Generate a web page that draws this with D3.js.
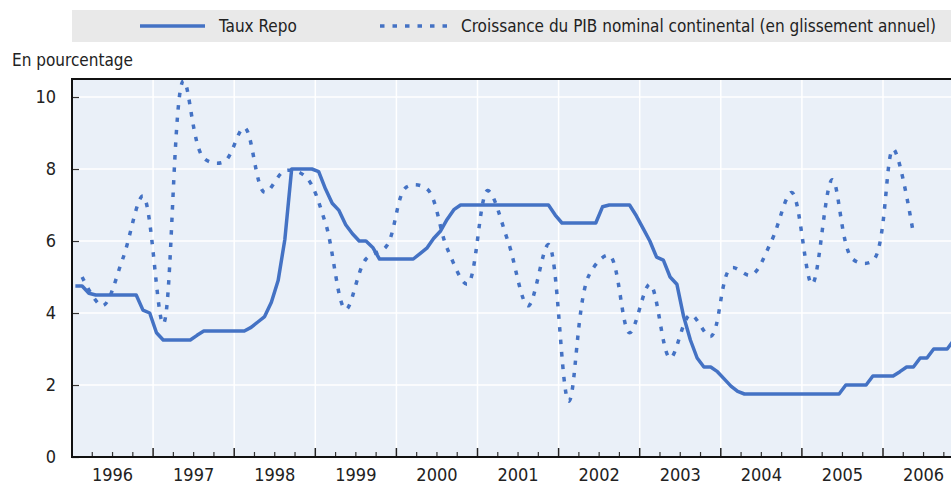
<!DOCTYPE html>
<html>
<head>
<meta charset="utf-8">
<script src="https://cdn.jsdelivr.net/npm/d3@7"></script>
<style>
  body { margin: 0; background: #fff; }
  svg { display: block; font-family: "Liberation Sans Narrow", "Arial Narrow", "DejaVu Sans Condensed", sans-serif; }
</style>
</head>
<body>
<svg width="951" height="486"></svg>
<script>
// monthly repo rate, Jan 1996 - Nov 2006
const repoStart = 1996;
const repoRate = [
  4.75, 4.75, 4.55, 4.5, 4.5, 4.5, 4.5, 4.5, 4.5, 4.5, 4.08, 4.0,
  3.45, 3.25, 3.25, 3.25, 3.25, 3.25, 3.38, 3.5, 3.5, 3.5, 3.5, 3.5,
  3.5, 3.5, 3.6, 3.75, 3.9, 4.3, 4.9, 6.05, 8.0, 8.0, 8.0, 8.0,
  7.93, 7.45, 7.05, 6.85, 6.45, 6.2, 6.0, 6.0, 5.82, 5.5, 5.5, 5.5,
  5.5, 5.5, 5.5, 5.65, 5.8, 6.07, 6.27, 6.6, 6.87, 7.0, 7.0, 7.0,
  7.0, 7.0, 7.0, 7.0, 7.0, 7.0, 7.0, 7.0, 7.0, 7.0, 7.0, 6.72,
  6.5, 6.5, 6.5, 6.5, 6.5, 6.5, 6.95, 7.0, 7.0, 7.0, 7.0, 6.7,
  6.35, 6.0, 5.55, 5.47, 5.0, 4.8, 3.9, 3.25, 2.75, 2.5, 2.5, 2.37,
  2.17, 1.97, 1.82, 1.75, 1.75, 1.75, 1.75, 1.75, 1.75, 1.75, 1.75, 1.75,
  1.75, 1.75, 1.75, 1.75, 1.75, 1.75, 2.0, 2.0, 2.0, 2.0, 2.25, 2.25,
  2.25, 2.25, 2.37, 2.5, 2.5, 2.75, 2.75, 3.0, 3.0, 3.0, 3.25
];

// quarterly nominal GDP growth (y/y), 1996Q1 - 2006Q2
const gdpStart = 1996;
const gdpGrowth = [
  5.0, 4.2, 5.5, 7.25,
  3.7, 10.45, 8.3, 8.2,
  9.15, 7.35, 7.95, 7.8,
  6.5, 4.1, 5.5, 5.85,
  7.5, 7.45, 5.8, 4.8,
  7.4, 6.0, 4.2, 5.9,
  1.55, 5.05, 5.6, 3.45,
  4.8, 2.75, 3.95, 3.35,
  5.25, 5.05, 6.0, 7.35,
  4.8, 7.7, 5.5, 5.45,
  8.55, 6.2
];

const yearLabels = ["1996", "1997", "1998", "1999", "2000", "2001", "2002", "2003", "2004", "2005", "2006"];
const yTicks = [0, 2, 4, 6, 8, 10];
const seriesNames = ["Taux Repo", "Croissance du PIB nominal continental (en glissement annuel)"];

const blue = "#4472c4";
const svg = d3.select("svg");
const plotLeft = 72, plotRight = 951, plotTop = 79, plotBottom = 457;
const yearWidth = 81.1;

// scales: x in fractional years
const x = d3.scaleLinear()
  .domain([1996, 1996 + (plotRight - plotLeft) / yearWidth])
  .range([plotLeft, plotRight]);
const y = d3.scaleLinear().domain([0, 10.5]).range([plotBottom, plotTop]);

// legend
svg.append("rect")
  .attr("x", 72).attr("y", 10).attr("width", 879).attr("height", 32)
  .attr("fill", "#e9e9e9");
svg.append("line")
  .attr("x1", 140).attr("x2", 205).attr("y1", 26).attr("y2", 26)
  .attr("stroke", blue).attr("stroke-width", 3.5);
svg.append("text").attr("x", 219).attr("y", 32)
  .attr("font-size", 17).attr("fill", "#222").text(seriesNames[0]);
svg.append("line")
  .attr("x1", 380).attr("x2", 452).attr("y1", 26).attr("y2", 26)
  .attr("stroke", blue).attr("stroke-width", 3.5)
  .attr("stroke-dasharray", "4.5,8");
svg.append("text").attr("x", 461).attr("y", 32)
  .attr("font-size", 17).attr("fill", "#222").text(seriesNames[1]);

svg.append("text").attr("x", 12).attr("y", 66)
  .attr("font-size", 17).attr("fill", "#222").text("En pourcentage");

// plot background
svg.append("rect")
  .attr("x", plotLeft).attr("y", plotTop)
  .attr("width", plotRight - plotLeft).attr("height", plotBottom - plotTop)
  .attr("fill", "#eaf0f8");

svg.append("defs").append("clipPath").attr("id", "plot-clip")
  .append("rect")
  .attr("x", plotLeft).attr("y", plotTop)
  .attr("width", plotRight - plotLeft).attr("height", plotBottom - plotTop);

// gridlines
const years = yearLabels.map(Number);
svg.append("g").selectAll("line")
  .data(years.slice(1))
  .enter().append("line")
  .attr("x1", d => x(d)).attr("x2", d => x(d))
  .attr("y1", plotTop).attr("y2", plotBottom)
  .attr("stroke", "#fff").attr("stroke-width", 1.5);
svg.append("g").selectAll("line")
  .data(yTicks.slice(1))
  .enter().append("line")
  .attr("x1", plotLeft).attr("x2", plotRight)
  .attr("y1", d => y(d)).attr("y2", d => y(d))
  .attr("stroke", "#fff").attr("stroke-width", 1.5);

// y axis
const yAxis = svg.append("g")
  .attr("transform", `translate(${plotLeft},0)`)
  .call(d3.axisLeft(y).tickValues(yTicks).tickSize(-7).tickPadding(16));
yAxis.select(".domain").remove();
yAxis.selectAll("line").attr("stroke", "#333").attr("stroke-width", 1.2);
yAxis.selectAll("text").attr("font-size", 18).attr("fill", "#222");
yAxis.attr("font-family", null);

// x axis: quarter ticks, year ticks and centred labels
const quarters = d3.range(1996, 2007, 0.25).filter(d => d % 1 !== 0);
svg.append("g").selectAll("line")
  .data(quarters)
  .enter().append("line")
  .attr("x1", d => x(d)).attr("x2", d => x(d))
  .attr("y1", plotBottom).attr("y2", plotBottom - 5)
  .attr("stroke", "#333").attr("stroke-width", 1.2);
svg.append("g").selectAll("line")
  .data(years.slice(1))
  .enter().append("line")
  .attr("x1", d => x(d)).attr("x2", d => x(d))
  .attr("y1", plotBottom).attr("y2", plotBottom - 9)
  .attr("stroke", "#222").attr("stroke-width", 1.5);
svg.append("g").selectAll("text")
  .data(years)
  .enter().append("text")
  .attr("x", d => x(d + 0.5))
  .attr("y", 481)
  .attr("text-anchor", "middle")
  .attr("font-size", 18).attr("fill", "#222")
  .text((d, i) => yearLabels[i]);

// series lines
const repoPoints = repoRate.map((v, i) => ({ t: repoStart + (i + 0.5) / 12, v: v }));
const gdpPoints = gdpGrowth.map((v, i) => ({ t: gdpStart + (i * 3 + 1.5) / 12, v: v }));

const lines = svg.append("g").attr("clip-path", "url(#plot-clip)");
lines.append("path")
  .datum(gdpPoints)
  .attr("fill", "none")
  .attr("stroke", blue).attr("stroke-width", 3.5)
  .attr("stroke-dasharray", "4.5,8")
  .attr("d", d3.line().x(d => x(d.t)).y(d => y(d.v)).curve(d3.curveCatmullRom.alpha(0.5)));
lines.append("path")
  .datum(repoPoints)
  .attr("fill", "none")
  .attr("stroke", blue).attr("stroke-width", 3.5)
  .attr("stroke-linejoin", "round")
  .attr("d", d3.line().x(d => x(d.t)).y(d => y(d.v)));

// frame: top border, left and bottom axis lines
svg.append("line").attr("x1", plotLeft).attr("x2", plotRight).attr("y1", plotTop).attr("y2", plotTop)
  .attr("stroke", "#111").attr("stroke-width", 2);
svg.append("line").attr("x1", plotLeft).attr("x2", plotLeft).attr("y1", plotTop - 1).attr("y2", plotBottom + 1)
  .attr("stroke", "#111").attr("stroke-width", 2);
svg.append("line").attr("x1", plotLeft - 1).attr("x2", plotRight).attr("y1", plotBottom).attr("y2", plotBottom)
  .attr("stroke", "#111").attr("stroke-width", 2);
</script>
</body>
</html>
